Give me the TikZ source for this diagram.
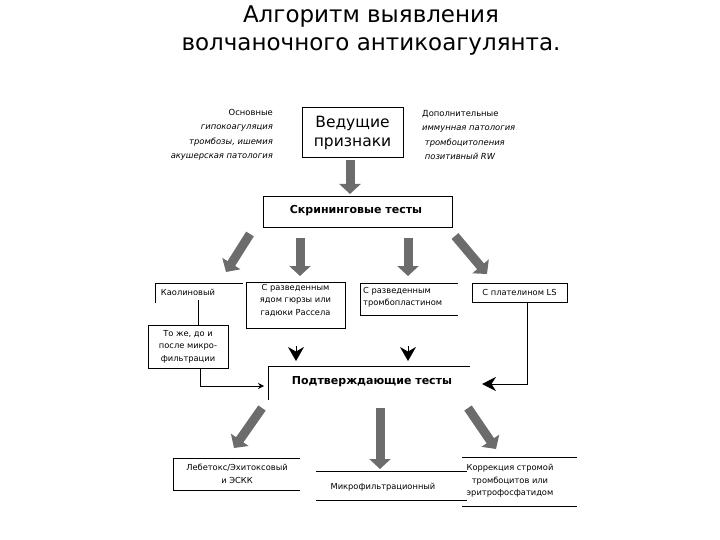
\documentclass[tikz,border=0pt]{standalone}
\usepackage{fontspec}
\setmainfont{DejaVu Sans}
\newfontfamily\headfont{DejaVu Sans}
\usetikzlibrary{arrows.meta}
\begin{document}
\begin{tikzpicture}[x=1pt,y=-1pt,
  greyarrow/.style={line width=9pt, draw=gray!85!black, -{Triangle[width=21pt,length=10pt]}},
  ln/.style={line width=0.8pt, draw=black},
  small/.style={font=\fontsize{8.3}{12.5}\selectfont, align=center, inner sep=0pt},
  note/.style={font=\fontsize{8.4}{14.5}\selectfont, inner sep=0pt},
  head/.style={font=\headfont\bfseries\fontsize{11}{13}\selectfont, inner sep=0pt},
  blk/.style={line width=0.8pt, -{Stealth[width=16pt,length=14pt]}}]
\useasboundingbox (0,0) rectangle (720,540);

% title
\node[font=\headfont\fontsize{23}{28}\selectfont, align=center, inner sep=0pt] (title) at (371,31)
  {Алгоритм выявления\\волчаночного антикоагулянта.};

% leading signs
\draw[ln] (302,107) rectangle (403,157);
\node[font=\headfont\fontsize{15.5}{19}\selectfont, align=center, inner sep=0pt] (lead) at (352.5,133) {Ведущие\\признаки};
\coordinate (leadS) at (350,160);

\node[note, align=right, anchor=east] (lnote) at (273,135)
  {Основные\\\itshape гипокоагуляция\\\itshape тромбозы, ишемия\\\itshape акушерская патология};
\node[note, align=left, anchor=west] (rnote) at (422,135)
  {Дополнительные\\\itshape иммунная патология\\\itshape \ тромбоцитопения\\\itshape \ позитивный RW};

% screening
\draw[ln] (263,196) rectangle (452,227);
\node[head] (screen) at (356,211) {Скрининговые тесты};
\coordinate (screenN) at (350,194);
\draw[greyarrow] (leadS) -- (screenN);

% screening arrows
\coordinate (sA1) at (250,234); \coordinate (sA2) at (226,272);
\coordinate (sB1) at (300,238); \coordinate (sB2) at (300,276);
\coordinate (sC1) at (408,238); \coordinate (sC2) at (408,276);
\coordinate (sD1) at (455,236); \coordinate (sD2) at (487,274);
\draw[greyarrow] (sA1) -- (sA2);
\draw[greyarrow] (sB1) -- (sB2);
\draw[greyarrow] (sC1) -- (sC2);
\draw[greyarrow] (sD1) -- (sD2);

% kaolin
\draw[ln] (155,303) -- (155,283) -- (243,283);
\node[small] (kaolin) at (188,292) {Каолиновый};
\draw[ln] (198,300) -- (198,325);
\draw[ln] (148,325) rectangle (228,368);
\node[small] (tozhe) at (188,346.5) {То же, до и\\после микро-\\фильтрации};

% venom
\draw[ln] (246,282) rectangle (345,328);
\node[small] (venom) at (295.5,300) {С разведенным\\ядом гюрзы или\\гадюки Рассела};

% thromboplastin
\draw[ln] (458,283) -- (360,283) -- (360,315) -- (458,315);
\node[small, align=left, anchor=west] (tpl) at (363,297.5) {С разведенным\\тромбопластином};

% platelin
\draw[ln] (472,283) rectangle (567,302);
\node[small] (plat) at (519.5,292.5) {С плателином LS};

% confirm
\draw[ln] (268,400) -- (268,366) -- (470,366);
\node[head] (confirm) at (372,382) {Подтверждающие тесты};

% black arrows
\coordinate (bA1) at (296,346); \coordinate (bA2) at (296,361);
\coordinate (bB1) at (408,346); \coordinate (bB2) at (408,361);
\draw[blk] (bA1) -- (bA2);
\draw[blk] (bB1) -- (bB2);

\coordinate (tozheS) at (200,368);
\coordinate (cL) at (264,386);
\draw[ln, -{Stealth[width=6pt,length=6pt]}] (tozheS) |- (cL);
\coordinate (platS) at (527,302);
\coordinate (cR) at (482,384);
\draw[ln, -{Stealth[width=14pt,length=14pt]}] (platS) |- (cR);

% confirm arrows
\coordinate (cA1) at (262,408); \coordinate (cA2) at (234,448);
\coordinate (cB1) at (380,408); \coordinate (cB2) at (380,469);
\coordinate (cC1) at (468,408); \coordinate (cC2) at (496,449);
\draw[greyarrow] (cA1) -- (cA2);
\draw[greyarrow] (cB1) -- (cB2);
\draw[greyarrow] (cC1) -- (cC2);

% bottom boxes
\draw[ln] (300,458) -- (173,458) -- (173,490) -- (300,490);
\node[small] (lebetox) at (237,474) {Лебетокс/Эхитоксовый\\и ЭСКК};

\draw[ln] (316,471) -- (467,471);
\draw[ln] (316,500) -- (467,500);
\node[small] (micro) at (383,487) {Микрофильтрационный};

\draw[ln] (462,457) -- (577,457);
\draw[ln] (462,506) -- (577,506);
\node[small] (korr) at (510,481) {Коррекция стромой\\тромбоцитов или\\эритрофосфатидом};
\end{tikzpicture}
\end{document}
